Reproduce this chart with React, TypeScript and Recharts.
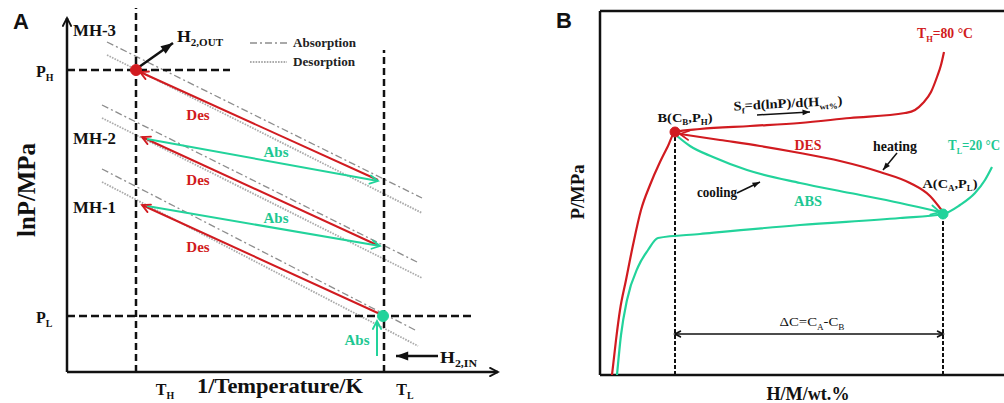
import React from 'react';
import { ComposedChart, Line, XAxis, YAxis, ReferenceDot } from 'recharts';

type Pt = { x: number; y: number };

const RED = '#d11b20';
const GREEN = '#22d39b';
const GREEN_TXT = '#1ec792';
const INK = '#111111';
const SERIF = '"Liberation Serif", "Times New Roman", serif';
const SANS = '"Liberation Sans", Arial, sans-serif';

// ---------- Panel A : lnP vs 1/T (arbitrary units) ----------
const axisYA: Pt[] = [{ x: 0, y: 0 }, { x: 0, y: 354 }];
const axisXA: Pt[] = [{ x: 0, y: 0 }, { x: 431, y: 0 }];
const guideTH: Pt[] = [{ x: 69, y: 0 }, { x: 69, y: 364 }];
const guideTL: Pt[] = [{ x: 317, y: 0 }, { x: 317, y: 322 }];
const guidePH: Pt[] = [{ x: 0, y: 302 }, { x: 163, y: 302 }];
const guidePL: Pt[] = [{ x: 0, y: 56 }, { x: 406, y: 56 }];

// MH-3, MH-2, MH-1 van 't Hoff lines
const isoAbs: Pt[][] = [
  [{ x: 40, y: 330 }, { x: 355, y: 174 }],
  [{ x: 35, y: 267 }, { x: 350, y: 110 }],
  [{ x: 35, y: 203 }, { x: 350, y: 41 }],
];
const isoDes: Pt[][] = [
  [{ x: 40, y: 317 }, { x: 355, y: 159 }],
  [{ x: 35, y: 254 }, { x: 355, y: 94 }],
  [{ x: 35, y: 190 }, { x: 351, y: 26 }],
];
const desSteps: Pt[][] = [
  [{ x: 311, y: 192 }, { x: 73, y: 300 }],
  [{ x: 310, y: 127 }, { x: 75, y: 235 }],
  [{ x: 313, y: 58 }, { x: 75, y: 167 }],
];
const absSteps: Pt[][] = [
  [{ x: 80, y: 233 }, { x: 311, y: 191 }],
  [{ x: 80, y: 166 }, { x: 313, y: 126 }],
  [{ x: 310, y: 16 }, { x: 310, y: 51 }],
];
const h2Out: Pt[] = [{ x: 72, y: 305 }, { x: 106, y: 329 }];
const h2In: Pt[] = [{ x: 371, y: 16 }, { x: 329, y: 16 }];
const legAbs: Pt[] = [{ x: 183, y: 329 }, { x: 220, y: 329 }];
const legDes: Pt[] = [{ x: 183, y: 310 }, { x: 220, y: 310 }];
const statesA = [
  { x: 69, y: 302, c: RED },
  { x: 316, y: 56, c: GREEN },
];

// ---------- Panel B : P vs H/M (arbitrary units) ----------
const frameB: Pt[][] = [
  [{ x: 0, y: 364 }, { x: 404, y: 364 }],
  [{ x: 0, y: 0 }, { x: 0, y: 364 }],
  [{ x: 0, y: 0 }, { x: 404, y: 0 }],
];
const isoHot: Pt[] = [
  { x: 12, y: 0 }, { x: 16, y: 35 }, { x: 20, y: 65 }, { x: 26, y: 95 }, { x: 33, y: 130 },
  { x: 41, y: 165 }, { x: 50, y: 190 }, { x: 60, y: 213 }, { x: 68, y: 229 }, { x: 75, y: 243 },
  { x: 100, y: 246 }, { x: 150, y: 249 }, { x: 200, y: 252 }, { x: 250, y: 257 }, { x: 305, y: 262 },
  { x: 315, y: 265 }, { x: 323, y: 272 }, { x: 331, y: 283 }, { x: 337, y: 298 }, { x: 341, y: 310 },
  { x: 344, y: 323 },
];
const isoCold: Pt[] = [
  { x: 17, y: 0 }, { x: 21, y: 40 }, { x: 27, y: 75 }, { x: 38, y: 108 }, { x: 48, y: 125 },
  { x: 58, y: 137 }, { x: 100, y: 141 }, { x: 200, y: 150 }, { x: 300, y: 157 }, { x: 343, y: 161 },
  { x: 360, y: 170 }, { x: 375, y: 182 }, { x: 385, y: 195 }, { x: 392, y: 208 },
];
const desCurve: Pt[] = [
  { x: 80, y: 241 }, { x: 120, y: 235 }, { x: 160, y: 229 }, { x: 200, y: 222 }, { x: 240, y: 214 },
  { x: 280, y: 203 }, { x: 310, y: 192 }, { x: 330, y: 179 }, { x: 343, y: 163 },
];
const absCurve: Pt[] = [
  { x: 77, y: 239 }, { x: 90, y: 229 }, { x: 113, y: 218 }, { x: 147, y: 205 }, { x: 200, y: 192 },
  { x: 250, y: 182 }, { x: 300, y: 172 }, { x: 340, y: 163 },
];
const guideCB: Pt[] = [{ x: 75, y: 0 }, { x: 75, y: 240 }];
const guideCA: Pt[] = [{ x: 343, y: 0 }, { x: 343, y: 159 }];
const deltaC: Pt[] = [{ x: 75, y: 41 }, { x: 343, y: 41 }];
const sfArrow: Pt[] = [{ x: 157, y: 260 }, { x: 210, y: 263 }];
const heatArrow: Pt[] = [{ x: 297, y: 222 }, { x: 283, y: 205 }];
const coolArrow: Pt[] = [{ x: 137, y: 182 }, { x: 160, y: 193 }];
const statesB = [
  { x: 75, y: 243, c: RED },
  { x: 343, y: 161, c: GREEN },
];

type Lab = {
  x: number; y: number; s: string; size: number; color?: string;
  anchor?: 'start' | 'middle' | 'end'; w?: number; rot?: number; font?: string; weight?: string;
};

const labelsA: Lab[] = [
  { x: -46, y: 351, s: 'A', size: 22, font: SANS },
  { x: 6, y: 342, s: 'MH-3', size: 16, anchor: 'start', w: 43 },
  { x: 6, y: 234, s: 'MH-2', size: 16, anchor: 'start', w: 43 },
  { x: 6, y: 165, s: 'MH-1', size: 16, anchor: 'start', w: 43 },
  { x: -31, y: 301, s: 'P_{H}', size: 16, anchor: 'start' },
  { x: -31, y: 55, s: 'P_{L}', size: 16, anchor: 'start' },
  { x: -41, y: 182, s: 'lnP/MPa', size: 25, rot: -90, w: 94 },
  { x: 213, y: -14, s: '1/Temperature/K', size: 21, w: 166 },
  { x: 98, y: -17, s: 'T_{H}', size: 16 },
  { x: 338, y: -17, s: 'T_{L}', size: 16 },
  { x: 226, y: 329, s: 'Absorption', size: 12, anchor: 'start', w: 63, color: '#222' },
  { x: 226, y: 310, s: 'Desorption', size: 12, anchor: 'start', w: 62, color: '#222' },
  { x: 110, y: 336, s: 'H_{2,OUT}', size: 16, anchor: 'start', w: 46 },
  { x: 373, y: 15, s: 'H_{2,IN}', size: 16, anchor: 'start', w: 37 },
  { x: 131, y: 257, s: 'Des', size: 15, color: RED },
  { x: 131, y: 192, s: 'Des', size: 15, color: RED },
  { x: 131, y: 125, s: 'Des', size: 15, color: RED },
  { x: 209, y: 220, s: 'Abs', size: 15, color: GREEN_TXT },
  { x: 209, y: 154, s: 'Abs', size: 15, color: GREEN_TXT },
  { x: 290, y: 32, s: 'Abs', size: 15, color: GREEN_TXT },
];

const labelsB: Lab[] = [
  { x: -36, y: 355, s: 'B', size: 22, font: SANS },
  { x: -23, y: 183, s: 'P/MPa', size: 19, rot: -90, w: 55 },
  { x: 208, y: -18, s: 'H/M/wt.%', size: 19, w: 83 },
  { x: 212, y: 53, s: 'ΔC=C_{A}-C_{B}', size: 12, w: 65, weight: 'normal' },
  { x: 85, y: 258, s: 'B(C_{B},P_{H})', size: 13, w: 55 },
  { x: 350, y: 192, s: 'A(C_{A},P_{L})', size: 13, w: 55 },
  { x: 345, y: 342, s: 'T_{H}=80 °C', size: 14, w: 56, color: RED },
  { x: 374, y: 230, s: 'T_{L}=20 °C', size: 14, w: 52, color: GREEN_TXT },
  { x: 188, y: 272, s: 'S_{f}=d(lnP)/d(H_{wt%})', size: 13, w: 109, rot: -3 },
  { x: 208, y: 230, s: 'DES', size: 15, w: 27, color: RED },
  { x: 208, y: 174, s: 'ABS', size: 15, w: 28, color: GREEN_TXT },
  { x: 295, y: 229, s: 'heating', size: 14, w: 44 },
  { x: 117, y: 183, s: 'cooling', size: 14, w: 40 },
];

const splitParts = (s: string) =>
  s.split(/(_\{[^}]*\})/).filter(Boolean).map((p) =>
    p.startsWith('_{') ? { t: p.slice(2, -1), sub: true } : { t: p, sub: false });

const Tag = ({ cx, cy, l }: { cx: number; cy: number; l: Lab }) => {
  const parts = splitParts(l.s);
  const shift = l.size * 0.28;
  let down = false;
  return (
    <text
      x={cx}
      y={cy}
      dy="0.35em"
      textAnchor={l.anchor ?? 'middle'}
      fontFamily={l.font ?? SERIF}
      fontWeight={l.weight ?? 'bold'}
      fontSize={l.size}
      fill={l.color ?? INK}
      textLength={l.w}
      lengthAdjust={l.w ? 'spacingAndGlyphs' : undefined}
      transform={l.rot ? `rotate(${l.rot} ${cx} ${cy})` : undefined}
    >
      {parts.map((p, i) => {
        let dy = 0;
        if (p.sub && !down) { dy = shift; down = true; }
        else if (!p.sub && down) { dy = -shift; down = false; }
        return (
          <tspan key={i} dy={dy || undefined} fontSize={p.sub ? l.size * 0.62 : undefined}>
            {p.t}
          </tspan>
        );
      })}
    </text>
  );
};

// arrow head drawn at a series end, oriented from the neighbouring point
const arrowDot = (color: string, at: 'start' | 'end' | 'both', filled = false, size = 9) => (props: any) => {
  const { index, points, cx, cy } = props;
  const n = points ? points.length : 0;
  const isEnd = index === n - 1 && (at === 'end' || at === 'both');
  const isStart = index === 0 && (at === 'start' || at === 'both');
  if (!points || n < 2 || (!isEnd && !isStart)) return <g key={`d${index}`} />;
  const ref = isEnd ? points[n - 2] : points[1];
  const a = Math.atan2(cy - ref.y, cx - ref.x);
  const w = filled ? 0.36 : 0.48;
  const p1 = `${cx - size * Math.cos(a - w)},${cy - size * Math.sin(a - w)}`;
  const p2 = `${cx - size * Math.cos(a + w)},${cy - size * Math.sin(a + w)}`;
  if (filled) return <polygon key={`d${index}`} points={`${cx},${cy} ${p1} ${p2}`} fill={color} />;
  return (
    <polyline key={`d${index}`} points={`${p1} ${cx},${cy} ${p2}`} fill="none" stroke={color}
      strokeWidth={1.8} strokeLinejoin="miter" strokeLinecap="round" />
  );
};

const seg = (key: string, data: Pt[], stroke: string, width: number, extra: any = {}) => (
  <Line
    key={key}
    data={data}
    dataKey="y"
    type={extra.type ?? 'linear'}
    stroke={stroke}
    strokeWidth={width}
    strokeDasharray={extra.dash}
    dot={extra.dot ?? false}
    activeDot={false}
    legendType="none"
    isAnimationActive={false}
  />
);

const labelDots = (list: Lab[], prefix: string) =>
  list.map((l, i) => (
    <ReferenceDot
      key={`${prefix}${i}`}
      x={l.x}
      y={l.y}
      r={0}
      ifOverflow="visible"
      shape={(p: any) => <Tag cx={p.cx} cy={p.cy} l={l} />}
    />
  ));

const stateDots = (list: { x: number; y: number; c: string }[], prefix: string, r: number) =>
  list.map((d, i) => (
    <ReferenceDot key={`${prefix}${i}`} x={d.x} y={d.y} r={r} fill={d.c} stroke={d.c} ifOverflow="visible" />
  ));

const PanelA = () => (
  <ComposedChart width={530} height={403} margin={{ top: 5, right: 30, bottom: 31, left: 67 }}>
    <XAxis type="number" dataKey="x" domain={[0, 433]} hide />
    <YAxis type="number" domain={[0, 367]} hide />
    {isoAbs.map((d, i) => seg(`ia${i}`, d, '#8d8d8d', 1.3, { dash: '7 3 2 3' }))}
    {isoDes.map((d, i) => seg(`id${i}`, d, '#ababab', 1.8, { dash: '1.6 1.2' }))}
    {seg('legA', legAbs, '#8d8d8d', 1.3, { dash: '7 3 2 3' })}
    {seg('legD', legDes, '#ababab', 1.8, { dash: '1.6 1.2' })}
    {seg('gth', guideTH, INK, 2.5, { dash: '7 4' })}
    {seg('gtl', guideTL, INK, 2.5, { dash: '7 4' })}
    {seg('gph', guidePH, INK, 2.5, { dash: '8 4' })}
    {seg('gpl', guidePL, INK, 2.5, { dash: '8 4' })}
    {desSteps.map((d, i) => seg(`ds${i}`, d, RED, 2, { dot: arrowDot(RED, 'end') }))}
    {absSteps.map((d, i) => seg(`as${i}`, d, GREEN, 2, { dot: arrowDot(GREEN, 'end') }))}
    {seg('h2o', h2Out, INK, 2.5, { dot: arrowDot(INK, 'end', true, 13) })}
    {seg('h2i', h2In, INK, 2.5, { dot: arrowDot(INK, 'end', true, 13) })}
    {seg('ay', axisYA, INK, 2.5, { dot: arrowDot(INK, 'end', false, 9) })}
    {seg('ax', axisXA, INK, 2.5, { dot: arrowDot(INK, 'end', false, 9) })}
    {stateDots(statesA, 'sa', 5.5)}
    {labelDots(labelsA, 'la')}
  </ComposedChart>
);

const PanelB = () => (
  <ComposedChart width={474} height={403} margin={{ top: 11, right: 0, bottom: 28, left: 70 }}>
    <XAxis type="number" dataKey="x" domain={[0, 404]} hide />
    <YAxis type="number" domain={[0, 364]} hide />
    {frameB.map((d, i) => seg(`fb${i}`, d, INK, 2.5))}
    {seg('gcb', guideCB, INK, 2, { dash: '4 2' })}
    {seg('gca', guideCA, INK, 2, { dash: '4 2' })}
    {seg('dc', deltaC, INK, 1.6, { dot: arrowDot(INK, 'both', false, 6) })}
    {seg('hot', isoHot, RED, 2.2, { type: 'monotone' })}
    {seg('cold', isoCold, GREEN, 2.2, { type: 'monotone' })}
    {seg('des', desCurve, RED, 2.2, { type: 'monotone', dot: arrowDot(RED, 'start', false, 10) })}
    {seg('abs', absCurve, GREEN, 2.2, { type: 'monotone', dot: arrowDot(GREEN, 'end', false, 10) })}
    {seg('sf', sfArrow, INK, 1.5, { dot: arrowDot(INK, 'end', true, 8) })}
    {seg('heat', heatArrow, INK, 1.5, { dot: arrowDot(INK, 'end', true, 8) })}
    {seg('cool', coolArrow, INK, 1.5, { dot: arrowDot(INK, 'end', true, 8) })}
    {stateDots(statesB, 'sb', 5)}
    {labelDots(labelsB, 'lb')}
  </ComposedChart>
);

export default function App() {
  return (
    <div style={{ position: 'absolute', left: 0, top: 0, width: 1004, height: 403, background: '#fff' }}>
      <div style={{ position: 'absolute', left: 0, top: 0 }}>
        <PanelA />
      </div>
      <div style={{ position: 'absolute', left: 530, top: 0 }}>
        <PanelB />
      </div>
    </div>
  );
}
